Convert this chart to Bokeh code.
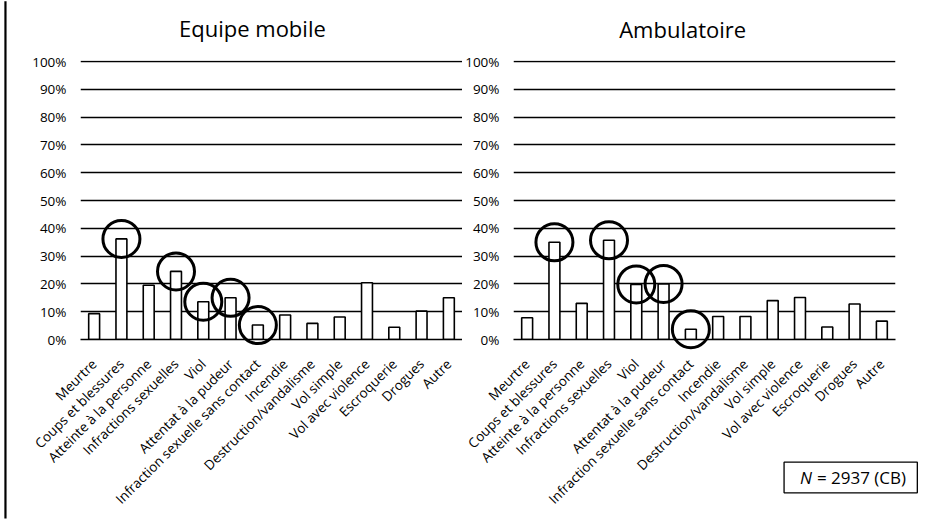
from math import pi
from bokeh.plotting import figure
from bokeh.layouts import row
from bokeh.models import (FactorRange, Range1d, FixedTicker, NumeralTickFormatter,
                          ColumnDataSource)
from bokeh.core.properties import value
from bokeh.embed import file_html
from bokeh.resources import INLINE

categories = ["Meurtre", "Coups et blessures", "Atteinte à la personne",
              "Infractions sexuelles", "Viol", "Attentat à la pudeur",
              "Infraction sexuelle sans contact", "Incendie",
              "Destruction/vandalisme", "Vol simple", "Vol avec violence",
              "Escroquerie", "Drogues", "Autre"]

mobile_values = [0.093, 0.362, 0.195, 0.245, 0.136, 0.150, 0.052, 0.088,
                 0.058, 0.081, 0.204, 0.044, 0.102, 0.150]
ambulatoire_values = [0.078, 0.350, 0.130, 0.357, 0.198, 0.200, 0.037, 0.083,
                      0.083, 0.140, 0.151, 0.045, 0.128, 0.066]

mobile_circled = ["Coups et blessures", "Infractions sexuelles", "Viol",
                  "Attentat à la pudeur", "Infraction sexuelle sans contact"]
ambulatoire_circled = ["Coups et blessures", "Infractions sexuelles", "Viol",
                       "Attentat à la pudeur", "Infraction sexuelle sans contact"]

y_ticks = [0, 0.1, 0.2, 0.3, 0.4, 0.5, 0.6, 0.7, 0.8, 0.9, 1.0]

titles = ["Equipe mobile", "Ambulatoire"]
note_n = "N"
note_rest = "= 2937 (CB)"

FONT = "Open Sans"


def make_chart(title, values, circled, width, bl, br, bt, bb, title_xy):
    p = figure(x_range=FactorRange(*categories), y_range=Range1d(0, 1.004),
               width=width, height=525, output_backend="svg",
               toolbar_location=None, min_border_left=bl, min_border_right=br,
               min_border_top=bt, min_border_bottom=bb)
    p.outline_line_color = None
    p.background_fill_color = "white"
    p.border_fill_color = "white"

    src = ColumnDataSource(dict(cat=categories, val=values))
    p.vbar(x="cat", top="val", width=0.4, source=src, fill_color="white",
           line_color="black", line_width=1.6)

    cvals = [values[categories.index(c)] for c in circled]
    csrc = ColumnDataSource(dict(cat=circled, val=cvals))
    r = p.scatter(x="cat", y="val", source=csrc, marker="circle", size=37,
                  fill_alpha=0, line_color="black", line_width=3)
    r.level = "overlay"

    # chart title (drawn as overlay text so it can sit freely above the frame)
    t = p.text(x=[title_xy[0]], y=[title_xy[1]], text=[title],
               text_font=value(FONT), text_font_size="22px",
               text_align="center", text_baseline="middle", text_color="black")
    t.level = "overlay"

    p.xgrid.grid_line_color = None
    p.ygrid.ticker = FixedTicker(ticks=y_ticks)
    p.ygrid.grid_line_color = "black"
    p.ygrid.grid_line_width = 1.3

    p.yaxis.ticker = FixedTicker(ticks=y_ticks)
    p.yaxis.formatter = NumeralTickFormatter(format="0%")
    p.yaxis.axis_line_color = None
    p.yaxis.major_tick_line_color = None
    p.yaxis.minor_tick_line_color = None
    p.yaxis.major_tick_out = 0
    p.yaxis.minor_tick_out = 0
    p.yaxis.major_label_standoff = 14
    p.yaxis.major_label_text_font = FONT
    p.yaxis.major_label_text_font_size = "13.5px"
    p.yaxis.major_label_text_color = "black"

    p.xaxis.axis_line_color = "black"
    p.xaxis.axis_line_width = 1.3
    p.xaxis.major_tick_line_color = None
    p.xaxis.minor_tick_line_color = None
    p.xaxis.major_tick_out = 0
    p.xaxis.minor_tick_out = 0
    p.xaxis.major_label_orientation = pi / 4
    p.xaxis.major_label_standoff = 22
    p.xaxis.major_label_text_font = FONT
    p.xaxis.major_label_text_font_size = "13.5px"
    p.xaxis.major_label_text_color = "black"
    return p


left = make_chart(titles[0], mobile_values, mobile_circled, 462, 80, 0, 60, 183,
                  (6.30, 1.1215))
right = make_chart(titles[1], ambulatoire_values, ambulatoire_circled, 482, 49, 49,
                   57, 186, (6.20, 1.118))

# page frame line on the left edge (scanned document border)
edge = left.segment(x0=[-2.75], y0=[1.2176], x1=[-2.75], y1=[-0.644],
                    line_color="black", line_width=2.2)
edge.level = "overlay"

# "N = 2937 (CB)" note box
nb = right.quad(left=[9.916], right=[14.80], top=[-0.4415], bottom=[-0.5518],
                fill_color="white", line_color="black", line_width=1.3)
nb.level = "overlay"
n1 = right.text(x=[10.50], y=[-0.4984], text=[note_n], text_font=value(FONT),
                text_font_style="italic", text_font_size="17px",
                text_baseline="middle", text_color="black")
n1.level = "overlay"
n2 = right.text(x=[11.12], y=[-0.4984], text=[note_rest], text_font=value(FONT),
                text_font_size="17px", text_baseline="middle", text_color="black")
n2.level = "overlay"

layout = row(left, right, spacing=0)
open("out.html", "w").write(file_html(layout, INLINE))
